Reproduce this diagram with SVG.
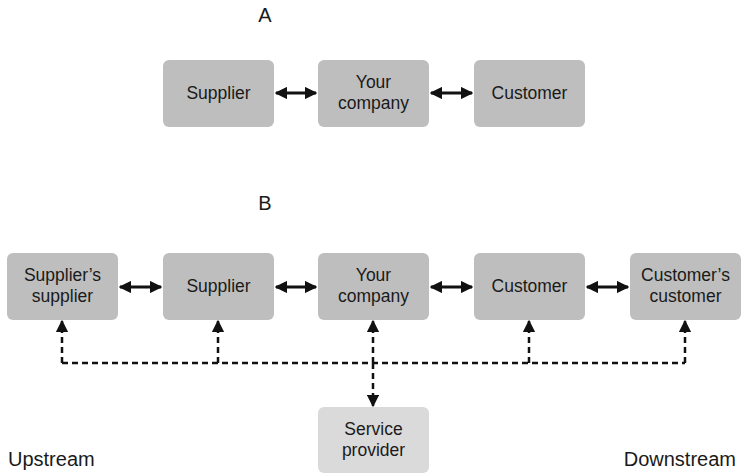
<svg xmlns="http://www.w3.org/2000/svg" width="741" height="473" viewBox="0 0 741 473">
<style>
.box{fill:#bebebe;}
.light{fill:#dadada;}
text{font-family:"Liberation Sans",Arial,sans-serif;font-size:17.5px;fill:#1a1a1a;text-anchor:middle;}
.big{font-size:20px;}
.solid{stroke:#111;stroke-width:3;fill:none;marker-start:url(#h);marker-end:url(#h);}
.dash{stroke:#111;stroke-width:2.5;fill:none;stroke-dasharray:6 4;}
.dashA{stroke:#111;stroke-width:2.5;fill:none;stroke-dasharray:6 4;marker-end:url(#h2);}
</style>
<defs>
<marker id="h" viewBox="0 0 10 10" refX="9" refY="5" markerWidth="4.2" markerHeight="4.2" orient="auto-start-reverse" markerUnits="strokeWidth">
<path d="M0,0 L10,5 L0,10 Z" fill="#111"/>
</marker>
<marker id="h2" viewBox="0 0 10 10" refX="9" refY="5" markerWidth="5" markerHeight="5" orient="auto-start-reverse" markerUnits="strokeWidth">
<path d="M0,0 L10,5 L0,10 Z" fill="#111"/>
</marker>
</defs>
<text class="big" x="265" y="22">A</text>
<text class="big" x="265" y="210">B</text>
<g id="a-supplier"><rect class="box" x="163" y="60" width="111" height="67" rx="6"/><text x="218.5" y="99">Supplier</text></g>
<g id="a-company"><rect class="box" x="318" y="60" width="111" height="67" rx="6"/><text x="373.5" y="88">Your</text><text x="373.5" y="109">company</text></g>
<g id="a-customer"><rect class="box" x="474" y="60" width="111" height="67" rx="6"/><text x="529.5" y="99">Customer</text></g>
<g id="b-supsup"><rect class="box" x="7" y="253" width="111" height="67" rx="6"/><text x="62.5" y="281">Supplier’s</text><text x="62.5" y="302">supplier</text></g>
<g id="b-supplier"><rect class="box" x="163" y="253" width="111" height="67" rx="6"/><text x="218.5" y="292">Supplier</text></g>
<g id="b-company"><rect class="box" x="318" y="253" width="111" height="67" rx="6"/><text x="373.5" y="281">Your</text><text x="373.5" y="302">company</text></g>
<g id="b-customer"><rect class="box" x="474" y="253" width="111" height="67" rx="6"/><text x="529.5" y="292">Customer</text></g>
<g id="b-custcust"><rect class="box" x="630" y="253" width="111" height="67" rx="6"/><text x="685.5" y="281">Customer’s</text><text x="685.5" y="302">customer</text></g>
<g id="service"><rect class="light" x="318" y="407" width="111" height="66" rx="6"/><text x="373.5" y="435">Service</text><text x="373.5" y="456">provider</text></g>
<text class="big" x="8" y="466" style="text-anchor:start">Upstream</text>
<text class="big" x="736" y="466" style="text-anchor:end">Downstream</text>
<g id="connectors">
<line class="solid" x1="120" y1="287" x2="161" y2="287"/>
<line class="solid" x1="276" y1="287" x2="316" y2="287"/>
<line class="solid" x1="431" y1="287" x2="472" y2="287"/>
<line class="solid" x1="587" y1="287" x2="628" y2="287"/>
<line class="solid" x1="276" y1="93" x2="316" y2="93"/>
<line class="solid" x1="431" y1="93" x2="472" y2="93"/>
<path class="dash" d="M62,363 H685"/>
<line class="dashA" x1="62" y1="363" x2="62" y2="321"/>
<line class="dashA" x1="218" y1="363" x2="218" y2="321"/>
<line class="dashA" x1="529" y1="363" x2="529" y2="321"/>
<line class="dashA" x1="685" y1="363" x2="685" y2="321"/>
<line class="dashA" x1="373" y1="363" x2="373" y2="321"/>
<line class="dashA" x1="373" y1="363" x2="373" y2="406"/>
</g>
</svg>
